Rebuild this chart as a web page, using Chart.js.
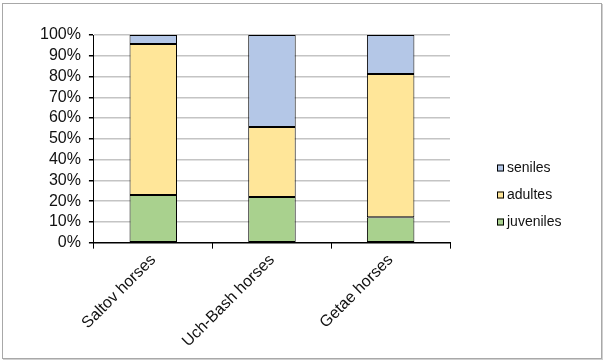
<!DOCTYPE html>
<html>
<head>
<meta charset="utf-8">
<script src="https://cdn.jsdelivr.net/npm/chart.js@4.4.1/dist/chart.umd.min.js"></script>
<style>
  body { margin: 0; background: #fff; }
  #wrap { position: relative; width: 606px; height: 363px; }
  #frame {
    position: absolute; left: 2px; top: 3px; width: 598px; height: 354px;
    border: 1px solid #a8a8a8; box-shadow: 1px 1px 0 #d0d0d0; pointer-events: none;
  }
  #ageChart { position: absolute; left: 0; top: 0; }
</style>
</head>
<body>
<div id="wrap">
  <canvas id="ageChart" width="606" height="363"></canvas>
  <div id="frame"></div>
</div>
<script>
const categories = ["Saltov horses", "Uch-Bash horses", "Getae horses"];
const juveniles = [23, 22, 12.2];
const adultes = [72.7, 33.7, 69];
const seniles = [4.3, 44.3, 18.8];
const yTicks = [0, 10, 20, 30, 40, 50, 60, 70, 80, 90, 100];

const font = "'Liberation Sans', Arial, sans-serif";

// legend drawn on the right, seniles on top like the original
const sideLegend = {
  id: "sideLegend",
  afterDraw(chart) {
    const ctx = chart.ctx;
    const sets = chart.data.datasets.slice().reverse();
    ctx.save();
    ctx.font = "14px " + font;
    ctx.textBaseline = "middle";
    sets.forEach((ds, i) => {
      const y = 168 + i * 27;
      ctx.fillStyle = ds.backgroundColor;
      ctx.fillRect(497, y - 3.5, 7, 7);
      ctx.strokeStyle = "#000";
      ctx.lineWidth = 1;
      ctx.strokeRect(497.5, y - 3, 6, 6);
      ctx.fillStyle = "#111";
      ctx.fillText(ds.label, 507, y);
    });
    ctx.restore();
  },
};

new Chart(document.getElementById("ageChart"), {
  type: "bar",
  data: {
    labels: categories,
    datasets: [
      { label: "juveniles", data: juveniles, backgroundColor: "#A9D18E" },
      { label: "adultes", data: adultes, backgroundColor: "#FFE699" },
      { label: "seniles", data: seniles, backgroundColor: "#B4C7E7" },
    ].map((d) => ({
      ...d,
      borderColor: "#000",
      borderWidth: 1,
      borderSkipped: false,
      barPercentage: 0.4,
      categoryPercentage: 1,
    })),
  },
  options: {
    responsive: false,
    animation: false,
    layout: { padding: { top: 35, left: 32, right: 156, bottom: 10 } },
    plugins: { legend: { display: false }, tooltip: { enabled: false } },
    scales: {
      x: {
        stacked: true,
        grid: { drawOnChartArea: false, tickLength: 6, tickColor: "#000", offset: true },
        border: { color: "#000" },
        ticks: {
          minRotation: 45, maxRotation: 45, padding: 2,
          color: "#111", font: { family: font, size: 16 },
        },
      },
      y: {
        stacked: true,
        min: 0, max: 100,
        afterBuildTicks: (axis) => { axis.ticks = yTicks.map((v) => ({ value: v })); },
        grid: {
          color: (c) => (c.tick && c.tick.value === 0 ? "#000" : "#c4c4c4"),
          lineWidth: 1.5,
          tickLength: 5, tickColor: "#000",
        },
        border: { color: "#000" },
        ticks: {
          autoSkip: false,
          padding: 8, color: "#111",
          font: { family: font, size: 16 },
          callback: (v) => v + "%",
        },
      },
    },
  },
  plugins: [sideLegend],
});
</script>
</body>
</html>
